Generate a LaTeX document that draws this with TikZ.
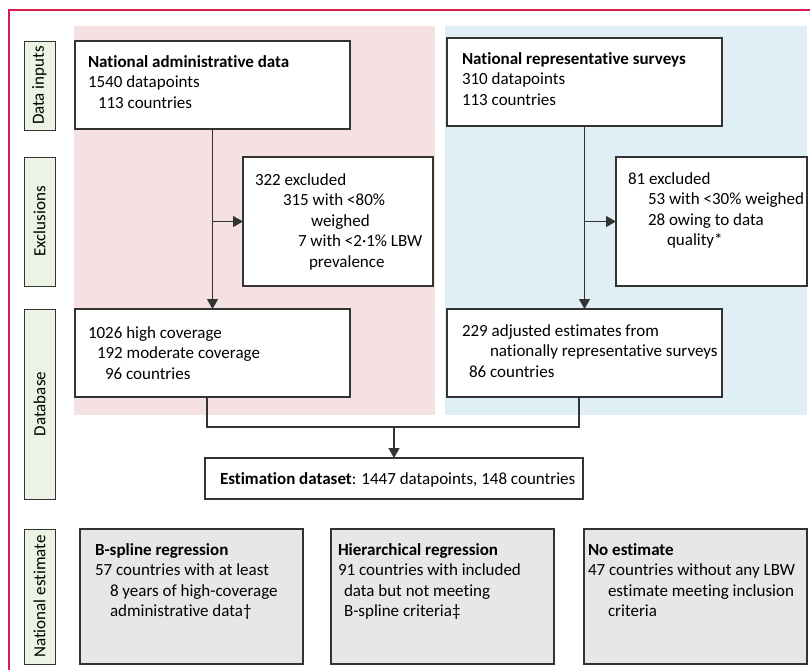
\documentclass[tikz,border=0pt]{standalone}
\usepackage{fontspec}
\setmainfont{Carlito}[Ligatures={NoCommon}]
\usetikzlibrary{arrows.meta,calc}
\definecolor{pinkbg}{HTML}{F5E1E1}
\definecolor{bluebg}{HTML}{E0EFF6}
\definecolor{greenlab}{HTML}{EBF3E4}
\definecolor{graybox}{HTML}{E6E7E8}
\definecolor{framec}{HTML}{D81E50}
\definecolor{linec}{HTML}{333333}
\newcommand{\stackl}[1]{\vtop{\baselineskip=20.5pt\lineskiplimit=-20pt #1}}
\newcommand{\rowl}[2]{\hbox{\kern#1pt #2}}
\begin{document}
\begin{tikzpicture}[x=1pt,y=-1pt,
  box/.style={draw=linec,line width=1.2pt,fill=white,rectangle,inner sep=0pt,outer sep=0pt,anchor=north west},
  gbox/.style={box,fill=graybox},
  lab/.style={draw=linec,line width=1pt,fill=greenlab,rectangle,inner sep=0pt,outer sep=0pt},
  labt/.style={rotate=90,inner sep=0pt,font=\fontsize{17}{20}\selectfont,text=black},
  txt/.style={anchor=base west,inner sep=0pt,outer sep=0pt,font=\fontsize{17}{20}\selectfont,text=black},
  conn/.style={draw=linec,line width=1.3pt},
  arr/.style={conn,-{Triangle[length=10pt,width=11pt]}}]
\useasboundingbox (0,0) rectangle (810,670);
% outer frame
\draw[framec,line width=1.2pt] (9,670) -- (9,10) -- (810,10);
% backgrounds
\fill[pinkbg] (74,26) rectangle (435,415);
\fill[bluebg] (445,26) rectangle (807,415);
% side labels
\node[lab,minimum width=31,minimum height=89] (l1) at (39.5,85.5) {};
\node[labt] (l1t) at (l1.center) {Data inputs};
\node[lab,minimum width=31,minimum height=129] (l2) at (39.5,221.5) {};
\node[labt] (l2t) at (l2.center) {Exclusions};
\node[lab,minimum width=31,minimum height=190] (l3) at (39.5,404) {};
\node[labt] (l3t) at (l3.center) {Database};
\node[lab,minimum width=31,minimum height=135] (l4) at (39.5,596.5) {};
\node[labt] (l4t) at (l4.center) {National estimate};
% boxes
\node[box,minimum width=275,minimum height=88] (adm) at (75,41) {};
\node[box,minimum width=190,minimum height=129] (exa) at (243,157) {};
\node[box,minimum width=275,minimum height=88] (sur) at (447,38) {};
\node[box,minimum width=191,minimum height=129] (exs) at (616,157) {};
\node[box,minimum width=275,minimum height=88] (dba) at (75,309) {};
\node[box,minimum width=275,minimum height=88] (dbs) at (447,309) {};
\node[box,minimum width=378,minimum height=41] (est) at (205,458) {};
\node[gbox,minimum width=223,minimum height=135] (bsp) at (80,529) {};
\node[gbox,minimum width=223,minimum height=135] (hie) at (331,529) {};
\node[gbox,minimum width=223,minimum height=135] (noe) at (584,529) {};
% texts
\node[txt] (admt) at (88,67) {\stackl{\rowl{0}{\textbf{National administrative data}}\rowl{0}{1540 datapoints}\rowl{10}{113 countries}}};
\node[txt] (exat) at (255,185) {\stackl{\rowl{0}{322 excluded}\rowl{28}{315 with <80\%}\rowl{56}{weighed}\rowl{43}{7 with <2·1\% LBW}\rowl{54}{prevalence}}};
\node[txt] (surt) at (462,64) {\stackl{\rowl{0}{\textbf{National representative surveys}}\rowl{0}{310 datapoints}\rowl{0}{113 countries}}};
\node[txt] (exst) at (628,184) {\stackl{\rowl{0}{81 excluded}\rowl{20}{53 with <30\% weighed}\rowl{20}{28 owing to data}\rowl{39}{quality*}}};
\node[txt] (dbat) at (88,338) {\stackl{\rowl{0}{1026 high coverage}\rowl{9}{192 moderate coverage}\rowl{17}{96 countries}}};
\node[txt] (dbst) at (462,336) {\stackl{\rowl{0}{229 adjusted estimates from}\rowl{28}{nationally representative surveys}\rowl{7}{86 countries}}};
\node[txt] (estt) at (220,484) {\textbf{Estimation dataset}: 1447 datapoints, 148 countries};
\node[txt] (bspt) at (95,555) {\stackl{\rowl{0}{\textbf{B-spline regression}}\rowl{0}{57 countries with at least}\rowl{15}{8 years of high-coverage}\rowl{15}{administrative data†}}};
\node[txt] (hiet) at (338,555) {\stackl{\rowl{0}{\textbf{Hierarchical regression}}\rowl{0}{91 countries with included}\rowl{6}{data but not meeting}\rowl{6}{B-spline criteria‡}}};
\node[txt] (noet) at (588,555) {\stackl{\rowl{0}{\textbf{No estimate}}\rowl{0}{47 countries without any LBW}\rowl{20}{estimate meeting inclusion}\rowl{20}{criteria}}};
% connectors
\draw[arr] (adm.south) -- (dba.north);
\draw[arr] (adm.south |- exa.west) -- (exa.west);
\draw[arr] (sur.south) -- (dbs.north);
\draw[arr] (sur.south |- exs.west) -- (exs.west);
\coordinate (m) at (est.north |- 0,427);
\draw[conn] ($(dba.south)+(-5.5,0)$) |- ($(dbs.south)+(-5.5,30)$) -- ($(dbs.south)+(-5.5,0)$);
\draw[arr] (m) -- (est.north);
\end{tikzpicture}
\end{document}
